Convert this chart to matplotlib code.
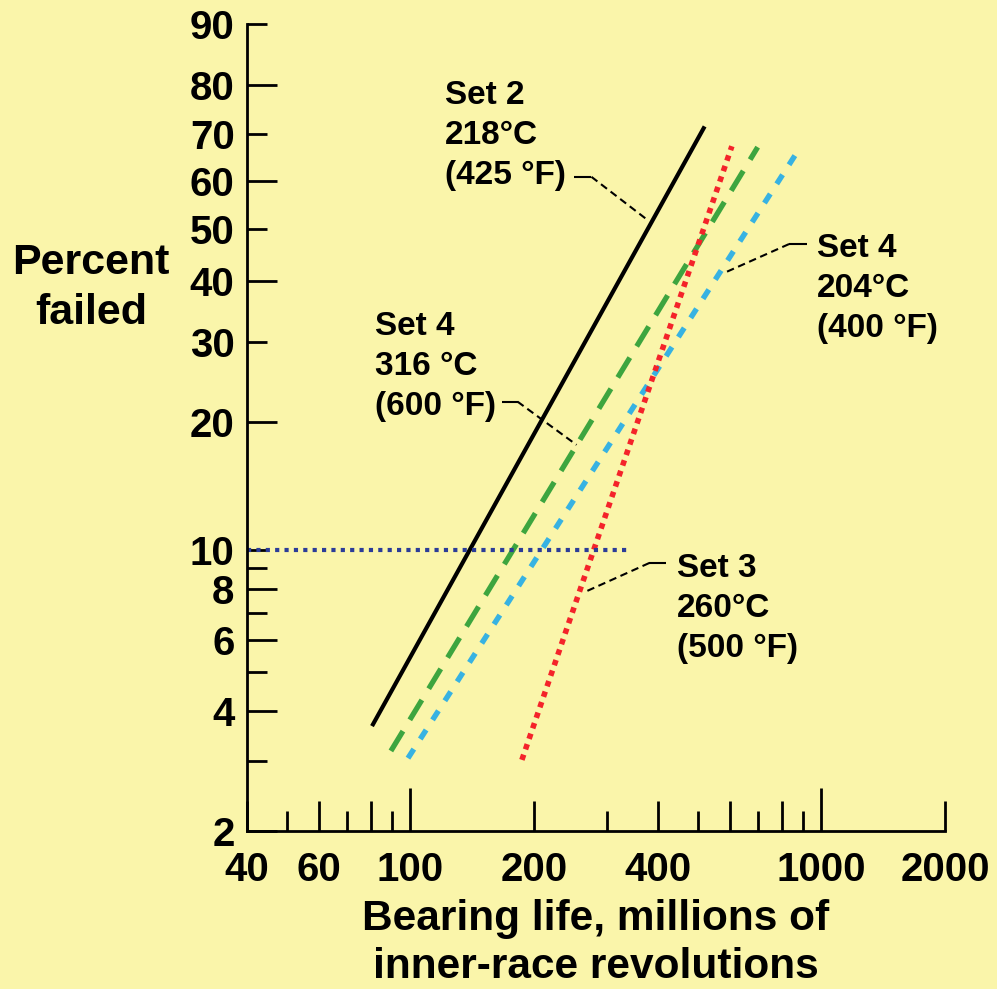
import numpy as np
import matplotlib.pyplot as plt

# bearing life (millions of revs) vs percent failed
life_set2 = [80.6, 520.0]
fail_set2 = [3.67, 71.7]
life_set4_600 = [89.6, 700.0]
fail_set4_600 = [3.18, 67.3]
life_set4_400 = [98.6, 886.0]
fail_set4_400 = [3.05, 67.1]
life_set3 = [186.7, 605.7]
fail_set3 = [3.02, 67.5]
life_ref10 = [40.0, 336.0]
fail_ref10 = [10.0, 10.0]

# leader lines: (text end) -> (kink) -> (curve)
lead_set2 = ([250.6, 275.7, 377.0], [60.9, 60.9, 51.8])
lead_set4_600 = ([166.6, 182.2, 253.6], [22.2, 22.2, 17.7])
lead_set4_400 = ([923.0, 834.8, 580.4], [46.9, 46.9, 41.4])
lead_set3 = ([419.7, 381.4, 265.2], [9.28, 9.28, 7.88])

x_ticks = [40, 50, 60, 70, 80, 90, 100, 200, 300, 400, 500, 600, 700, 800, 900, 1000, 2000]
x_labels = ['40', '', '60', '', '', '', '100', '200', '', '400', '', '', '', '', '', '1000', '2000']
y_ticks = [2, 3, 4, 5, 6, 7, 8, 9, 10, 20, 30, 40, 50, 60, 70, 80, 90]
y_labels = ['2', '', '4', '', '6', '', '8', '', '10', '20', '30', '40', '50', '60', '70', '80', '90']

BG = '#FAF5AA'
FONT = 'Liberation Sans'


def weib(p):
    p = np.clip(np.asarray(p, dtype=float), 1e-6, 100 - 1e-6)
    return np.log(-np.log(1 - p / 100.0))


def weib_inv(w):
    w = np.asarray(w, dtype=float)
    return 100.0 * (1 - np.exp(-np.exp(w)))


plt.rcParams['font.family'] = FONT
plt.rcParams['font.weight'] = 'bold'

fig = plt.figure(figsize=(9.97, 9.89), dpi=100, facecolor=BG)
ax = fig.add_axes([247 / 997, 1 - 831 / 989, (945 - 247) / 997, (831 - 24) / 989])
ax.set_facecolor(BG)

ax.set_xscale('log')
ax.set_yscale('function', functions=(weib, weib_inv))
ax.set_xlim(40, 2000)
ax.set_ylim(2, 90)

ax.plot(life_set2, fail_set2, color='black', lw=3.0, solid_capstyle='butt')
ax.plot(life_set4_600, fail_set4_600, color='#3DA53F', lw=3.8, dashes=(4.4, 2.5), dash_capstyle='butt')
ax.plot(life_set4_400, fail_set4_400, color='#37B2E2', lw=3.9, dashes=(2.0, 2.2), dash_capstyle='butt')
ax.plot(life_set3, fail_set3, color='#F4232A', lw=4.0, dashes=(1.0, 1.0), dash_capstyle='butt')
ax.plot(life_ref10, fail_ref10, color='#2B3C98', lw=3.0, dashes=(1.0, 1.25), dash_capstyle='butt',
        clip_on=False)

# leaders: short solid stub next to the text, dashed run to the curve
for lx, ly in [lead_set2, lead_set4_600, lead_set4_400, lead_set3]:
    ax.plot(lx[:2], ly[:2], color='black', lw=1.5, solid_capstyle='butt')
    ax.plot(lx[1:], ly[1:], color='black', lw=1.5, dashes=(3.6, 2.2))

# spines and ticks
for s in ['top', 'right']:
    ax.spines[s].set_visible(False)
for s in ['left', 'bottom']:
    ax.spines[s].set_linewidth(2.0)
    ax.spines[s].set_color('black')

ax.set_xticks(x_ticks)
ax.set_xticklabels(x_labels)
ax.set_yticks(y_ticks)
ax.set_yticklabels(y_labels)
ax.minorticks_off()
ax.tick_params(axis='both', direction='in', width=2.0, labelsize=29, colors='black')
ax.tick_params(axis='x', pad=14.5)
ax.tick_params(axis='y', pad=9)

# tick lengths: decades longest, even values long, odd values short
for t, v in zip(ax.xaxis.get_major_ticks(), x_ticks):
    lead = int(str(v)[0])
    if lead == 1:
        L = 31
    elif lead % 2 == 0:
        L = 21.6
    else:
        L = 14.4
    t.tick1line.set_markersize(L)
for t, v in zip(ax.yaxis.get_major_ticks(), y_ticks):
    lead = int(str(v)[0])
    t.tick1line.set_markersize(21.6 if lead % 2 == 0 else 14.4)

for lab in ax.get_xticklabels() + ax.get_yticklabels():
    lab.set_fontweight('bold')

# annotations
ann = dict(fontsize=24, fontweight='bold', ha='left', va='top', linespacing=1.37)
fig.text(445 / 997, 1 - 80 / 989, 'Set 2\n218°C\n(425 °F)', **ann)
fig.text(375 / 997, 1 - 311 / 989, 'Set 4\n316 °C\n(600 °F)', **ann)
fig.text(817 / 997, 1 - 233 / 989, 'Set 4\n204°C\n(400 °F)', **ann)
fig.text(677 / 997, 1 - 553 / 989, 'Set 3\n260°C\n(500 °F)', **ann)

fig.text(91 / 997, 1 - 288 / 989, 'Percent\nfailed', fontsize=31, fontweight='bold',
         ha='center', va='center', linespacing=1.3)
fig.text(596 / 997, 1 - 943 / 989, 'Bearing life, millions of\ninner-race revolutions', fontsize=30.5,
         fontweight='bold', ha='center', va='center', linespacing=1.27)

fig.savefig('out.png', dpi=100, facecolor=BG)
